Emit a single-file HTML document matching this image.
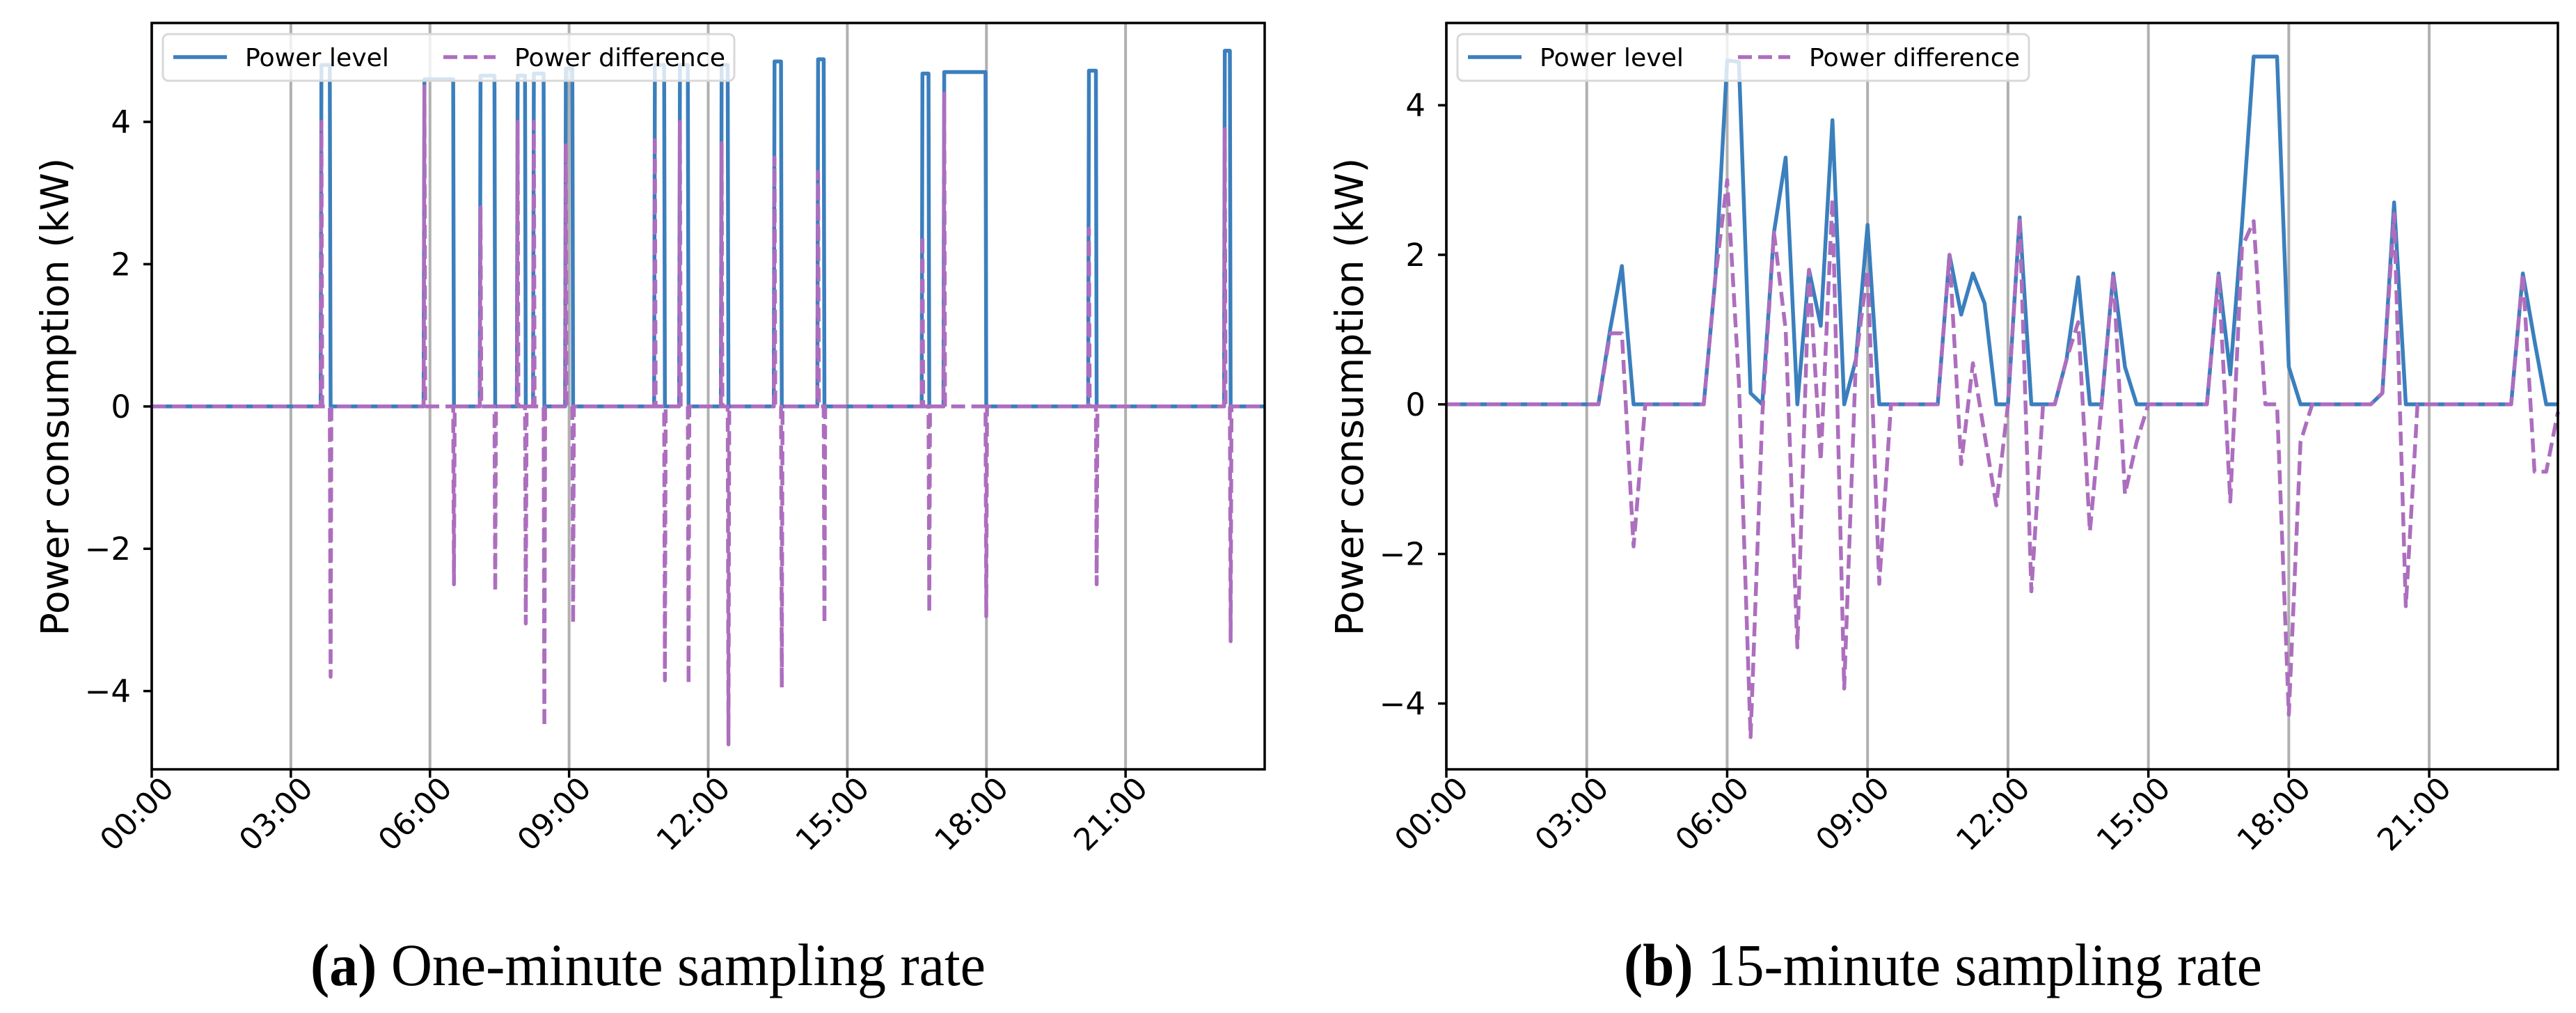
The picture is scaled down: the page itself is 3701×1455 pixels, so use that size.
<!DOCTYPE html>
<html><head><meta charset="utf-8"><style>
html,body{margin:0;padding:0;background:#fff;}
svg{display:block;}
text{font-family:"DejaVu Sans","Liberation Sans",sans-serif;}
.cap{font-family:"Liberation Serif",serif;font-size:86px;}
</style></head><body>
<svg id="fig" width="3701" height="1455" viewBox="0 0 3701 1455"></svg>
<script>
// ---------- data: panel (a) one-minute ----------
const pulseStart=[3.66,5.88,7.09,7.89,8.24,8.93,10.85,11.39,12.29,13.43,14.37,16.62,17.09,20.21,23.14];
const pulseEnd  =[3.84,6.50,7.39,8.05,8.45,9.07,11.05,11.56,12.42,13.57,14.49,16.75,17.98,20.36,23.25];
const pulseLevel=[4.8,4.6,4.65,4.65,4.68,4.75,4.8,4.8,4.8,4.85,4.88,4.68,4.7,4.72,5.0];
const diffUp    =[4.0,4.5,2.8,4.0,4.0,3.7,3.8,4.0,3.7,3.5,3.3,2.4,4.4,2.5,3.9];
const diffDown  =[-3.8,-2.5,-2.6,-3.05,-4.5,-3.05,-3.85,-3.9,-4.75,-3.95,-3.05,-2.9,-2.95,-2.5,-3.3];
// ---------- data: panel (b) 15-minute ----------
const levelB=[0,0,0,0,0,0,0,0,0,0,0,0,0,0,1.0,1.85,0,0,0,0,0,0,0,1.7,4.6,4.58,0.15,0,2.3,3.3,0,1.8,1.05,3.8,0,0.6,2.4,0,0,0,0,0,0,2.0,1.2,1.75,1.35,0,0,2.5,0,0,0,0.6,1.7,0,0,1.75,0.5,0,0,0,0,0,0,0,1.75,0.4,2.4,4.65,4.65,4.65,0.5,0,0,0,0,0,0,0,0.15,2.7,0,0,0,0,0,0,0,0,0,0,1.75,0.85,0,0];
const diffB=[0,0,0,0,0,0,0,0,0,0,0,0,0,0,0.95,0.95,-1.9,0,0,0,0,0,0,1.7,3.0,0.3,-4.45,-0.15,2.3,1.0,-3.25,1.8,-0.75,2.75,-3.8,0.6,1.8,-2.4,0,0,0,0,0,2.0,-0.8,0.55,-0.4,-1.35,0,2.5,-2.5,0,0,0.6,1.1,-1.7,0,1.75,-1.2,-0.5,0,0,0,0,0,0,1.75,-1.3,2.1,2.45,0,0,-4.15,-0.5,0,0,0,0,0,0,0.15,2.55,-2.7,0,0,0,0,0,0,0,0,0,1.75,-0.9,-0.9,-0.1];
const yTicksA=[-4,-2,0,2,4];
const yTicksB=[-4,-2,0,2,4];
const xTickLabels=["00:00","03:00","06:00","09:00","12:00","15:00","18:00","21:00"];

const NS="http://www.w3.org/2000/svg";
const svg=document.getElementById('fig');
function mk(tag,attrs,parent){const e=document.createElementNS(NS,tag);for(const k in attrs)e.setAttribute(k,attrs[k]);(parent||svg).appendChild(e);return e;}
const BLUE="#3b7fbd", PURP="#ad6ebe";

function panel(o){
  const g=mk('g',{});
  
  
  const X=h=>o.x0+(h-o.xmin)/(o.xmax-o.xmin)*(o.x1-o.x0);
  const Y=v=>o.y1-(v-o.ymin)/(o.ymax-o.ymin)*(o.y1-o.y0);
  for(let i=0;i<8;i++){
    const gl=mk('line',{x1:X(i*3),x2:X(i*3),y1:o.y0,y2:o.y1,stroke:"#b0b0b0","stroke-width":4},g);
    
    
  }
  const pl=mk('polyline',{points:o.level.map(p=>X(p[0]).toFixed(1)+','+Y(p[1]).toFixed(1)).join(' '),fill:"none",stroke:BLUE,"stroke-width":5.5,"stroke-linejoin":"round"},g);
  
  
  const pd=mk('polyline',{points:o.diff.map(p=>X(p[0]).toFixed(1)+','+Y(p[1]).toFixed(1)).join(' '),fill:"none",stroke:PURP,"stroke-width":5.5,"stroke-dasharray":"20 9","stroke-linejoin":"round"},g);
  
  
  const fr=mk('rect',{x:o.x0,y:o.y0,width:o.x1-o.x0,height:o.y1-o.y0,fill:"none",stroke:"#000","stroke-width":3.5},g);
  
  
  o.yt.forEach(v=>{
    mk('line',{x1:o.x0-12,x2:o.x0,y1:Y(v),y2:Y(v),stroke:"#000","stroke-width":3.5},g);
    const t=mk('text',{x:o.x0-30,y:Y(v)+16,"text-anchor":"end","font-size":45},g);
    t.textContent=(v<0?"\u2212":"")+Math.abs(v);
    
    
  });
  xTickLabels.forEach((lab,i)=>{
    const xx=X(i*3);
    mk('line',{x1:xx,x2:xx,y1:o.y1,y2:o.y1+12,stroke:"#000","stroke-width":3.5},g);
    const t=mk('text',{x:0,y:0,"text-anchor":"end","font-size":44,transform:`translate(${xx+34},${o.y1+30}) rotate(-45)`},g);
    t.textContent=lab;
    
    
  });
  const yl=mk('text',{x:0,y:0,"text-anchor":"middle","font-size":55,transform:`translate(${o.x0-120},570) rotate(-90)`},g);
  yl.textContent="Power consumption (kW)";
  
  
  const lg=mk('g',{},g);
  
  
  const lx=o.x0+16;
  mk('rect',{x:lx,y:49,width:821,height:67,rx:8,fill:"rgba(255,255,255,0.8)",stroke:"#d8d8d8","stroke-width":3},lg);
  mk('line',{x1:lx+15,x2:lx+92,y1:82,y2:82,stroke:BLUE,"stroke-width":5.5},lg);
  const t1=mk('text',{x:lx+118,y:95,"font-size":36,textLength:207,lengthAdjust:"spacingAndGlyphs"},lg);
  t1.textContent="Power level";
  
  
  mk('line',{x1:lx+403,x2:lx+478,y1:82,y2:82,stroke:PURP,"stroke-width":5.5,"stroke-dasharray":"20 9"},lg);
  const t2=mk('text',{x:lx+505,y:95,"font-size":36,textLength:303,lengthAdjust:"spacingAndGlyphs"},lg);
  t2.textContent="Power difference";
  
  
  const c=mk('text',{x:o.capX,y:1415,class:"cap",textLength:o.capW,lengthAdjust:"spacingAndGlyphs"},g);
  c.innerHTML=`<tspan font-weight="bold">(${o.letter})</tspan> ${o.caption}`;
  
  
}

const m=1/60;
let levelA=[[0,0]], diffA=[[0,0]];
pulseStart.forEach((s,i)=>{
  const e=pulseEnd[i];
  levelA.push([s-m,0],[s,pulseLevel[i]],[e,pulseLevel[i]],[e+m,0]);
  diffA.push([s-m,0],[s,diffUp[i]],[s+m,0],[e,0],[e+m,diffDown[i]],[e+2*m,0]);
});
levelA.push([24,0]); diffA.push([24,0]);

panel({name:'panel-a-one-minute',x0:218,x1:1817,y0:33,y1:1105,xmin:0,xmax:24,ymin:-5.1,ymax:5.39,
  level:levelA,diff:diffA,yt:yTicksA,capX:446,capW:970,letter:'a',caption:'One-minute sampling rate'});
panel({name:'panel-b-15-minute',x0:2078,x1:3675,y0:33,y1:1105,xmin:0,xmax:23.75,ymin:-4.88,ymax:5.1,
  level:levelB.map((v,i)=>[i*0.25,v]),diff:diffB.map((v,i)=>[i*0.25,v]),yt:yTicksB,capX:2333,capW:917,letter:'b',caption:'15-minute sampling rate'});
</script>
</body></html>
